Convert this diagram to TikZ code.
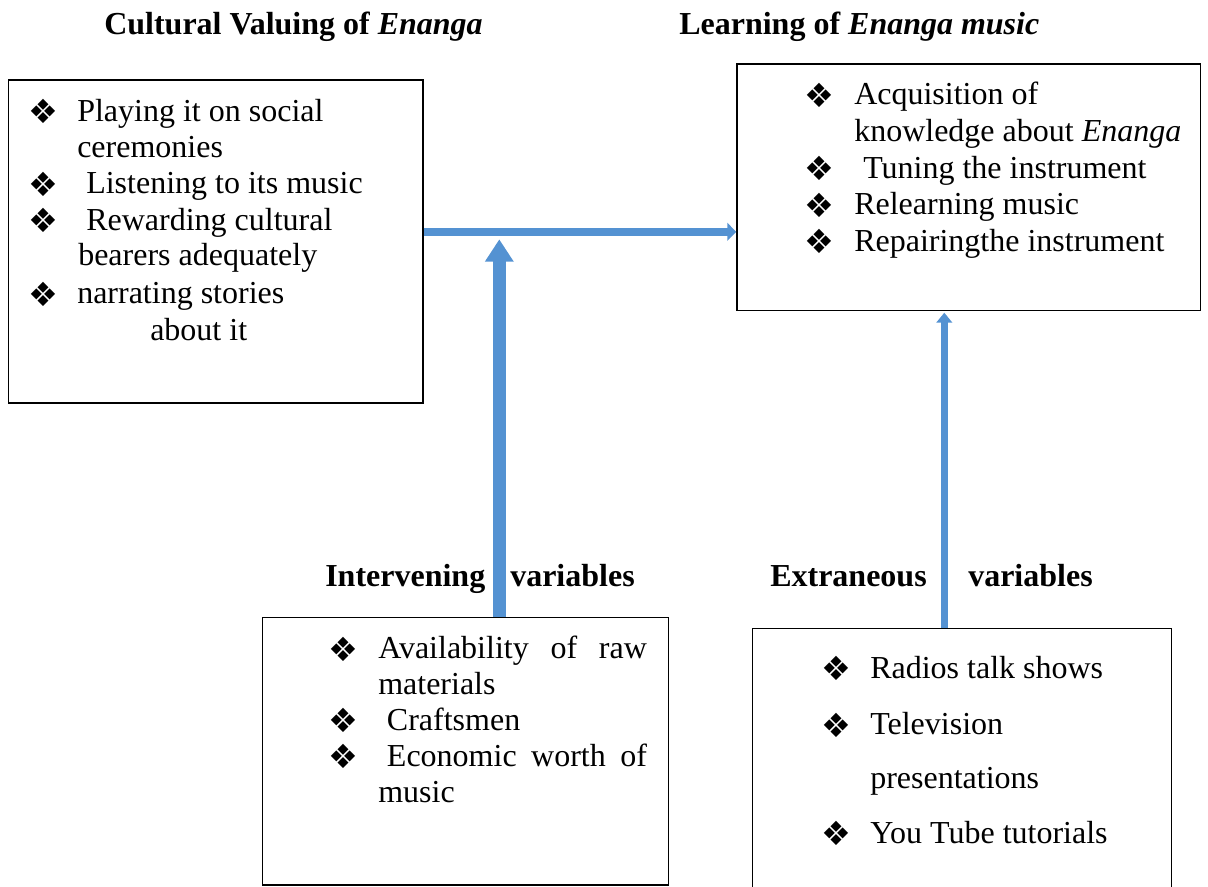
\documentclass[tikz,border=0pt]{standalone}
\usepackage{fontspec}
\setmainfont{Liberation Serif}
\newfontfamily\dejavu{DejaVu Sans}
\usetikzlibrary{arrows.meta,fit}
\definecolor{arrowblue}{RGB}{84,146,210}
\newcommand\bodyfont{\fontsize{24}{28}\selectfont}
\newcommand\bulfont{\dejavu\fontsize{25}{25}\selectfont}
\tikzset{
  x=0.75pt, y=-0.75pt,
  box/.style={draw=black, line width=1.1pt, inner sep=0pt},
  txt/.style={anchor=base west, inner sep=0pt, font=\bodyfont},
  head/.style={anchor=base west, inner sep=0pt, font=\bodyfont\bfseries},
  bul/.style={anchor=center, inner sep=0pt, font=\bulfont},
  blockarrow/.style={draw=arrowblue, line cap=butt}
}
\begin{document}
\begin{tikzpicture}
\useasboundingbox (0,0) rectangle (1208,887);
% boxes
\node[box, fit={(8.3,80) (423,403)}] (CV) {};
\node[box, fit={(737,64) (1200.7,310.7)}] (LE) {};
\node[box, fit={(262.3,617.3) (668.3,885)}] (IV) {};
\node[box, fit={(752.3,628.3) (1171.7,905)}] (EV) {};
% headings
\node[head] (h1) at (104,35) {Cultural Valuing of \textit{Enanga}};
\node[head] (h2) at (679,35) {Learning of \textit{Enanga music}};
\node[head] (h3) at (325,587) {Intervening};
\node[head] (h4) at (510,587) {variables};
\node[head] (h5) at (770,587) {Extraneous};
\node[head] (h6) at (968,587) {variables};
% left box
\node[bul] (b1) at (43.5,111.7) {❖};
\node[txt] (t1) at (77,121.7) {Playing it on social};
\node[txt] (t2) at (77,157.3) {ceremonies};
\node[bul] (b2) at (43.5,184) {❖};
\node[txt] (t3) at (86,194) {Listening to its music};
\node[bul] (b3) at (43.5,220.7) {❖};
\node[txt] (t4) at (86,230.7) {Rewarding cultural};
\node[txt] (t5) at (78,265.7) {bearers adequately};
\node[bul] (b4) at (43.5,294) {❖};
\node[txt] (t6) at (77,304) {narrating stories};
\node[txt] (t7) at (150,340.7) {about it};
% right box
\node[bul] (b5) at (819,95) {❖};
\node[txt] (t8) at (854,105) {Acquisition of};
\node[txt] (t9) at (854,141.7) {knowledge about \textit{Enanga}};
\node[bul] (b6) at (819,168.3) {❖};
\node[txt] (t10) at (863,178.3) {Tuning the instrument};
\node[bul] (b7) at (819,205) {❖};
\node[txt] (t11) at (854,215) {Relearning music};
\node[bul] (b8) at (819,241.7) {❖};
\node[txt] (t12) at (854,251.7) {Repairingthe instrument};
% bottom left box
\node[bul] (b9) at (343.5,649) {❖};
\node[txt] (t13) at (378,659) {\makebox[201.5pt][s]{Availability of raw}};
\node[txt] (t14) at (378,694.3) {materials};
\node[bul] (b10) at (343.5,720.7) {❖};
\node[txt] (t15) at (386.7,730.7) {Craftsmen};
\node[bul] (b11) at (343.5,756.7) {❖};
\node[txt] (t16) at (386.7,766.7) {\makebox[195pt][s]{Economic worth of}};
\node[txt] (t17) at (378,802.7) {music};
% bottom right box
\node[bul] (b12) at (836,668.3) {❖};
\node[txt] (t18) at (870,678.3) {Radios talk shows};
\node[bul] (b13) at (836,725) {❖};
\node[txt] (t19) at (870,735) {Television};
\node[txt] (t20) at (870,788.3) {presentations};
\node[bul] (b14) at (836,833.3) {❖};
\node[txt] (t21) at (870,843.3) {You Tube tutorials};
% arrows
\coordinate (hy) at (0,231.85);
\coordinate (v1t) at (499.3,239.3);
\coordinate (v2t) at (944.3,312.7);
\draw[blockarrow, line width=6.2pt, -{Triangle[length=6.75pt,width=13.3pt]}] (CV.east |- hy) -- (LE.west |- hy);
\draw[blockarrow, line width=10pt, -{Triangle[length=16.8pt,width=20.5pt]}] (IV.north -| v1t) -- (v1t);
\draw[blockarrow, line width=5.5pt, -{Triangle[length=7.5pt,width=11.7pt]}] (EV.north -| v2t) -- (v2t);
\end{tikzpicture}
\end{document}
